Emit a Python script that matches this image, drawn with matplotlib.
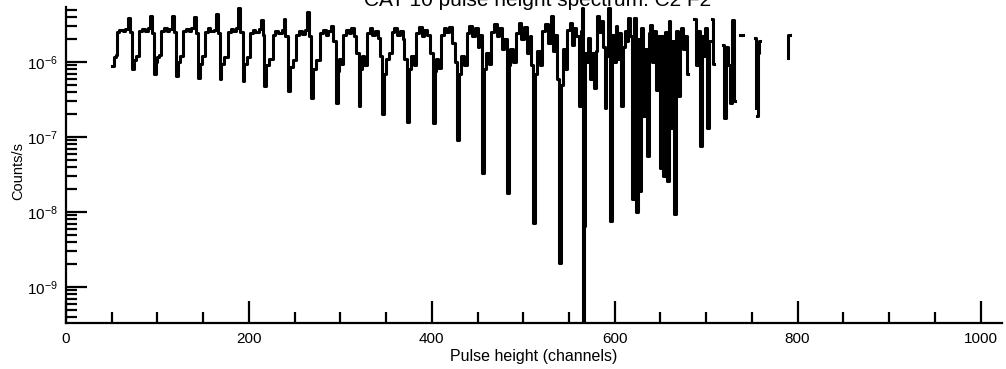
import numpy as np
import matplotlib.pyplot as plt
from matplotlib.ticker import LogLocator, NullFormatter

plt.rcParams['font.family'] = ['Liberation Sans', 'DejaVu Sans']
plt.rcParams['mathtext.fontset'] = 'custom'
plt.rcParams['mathtext.rm'] = 'Liberation Sans'
plt.rcParams['mathtext.it'] = 'Liberation Sans:italic'
plt.rcParams['mathtext.bf'] = 'Liberation Sans:bold'

# step start channel and count rate (units of 1e-6 counts/s), channels 50-278
ch_low = [50, 52, 55,
          56, 58, 62, 65, 68, 70, 72, 74, 77,
          80, 83, 86, 90, 92, 94, 96, 98, 100, 102,
          104, 107, 110, 113, 116, 118, 120, 122, 125,
          128, 131, 134, 137, 140, 142, 144, 146, 149,
          152, 155, 158, 162, 164, 166, 168, 170, 173,
          177, 180, 183, 186, 188, 190, 193, 195, 198,
          201, 204, 207, 211, 213, 215, 217, 219, 222,
          226, 229, 232, 236, 238, 240, 243, 245, 248,
          252, 255, 258, 261, 264, 266, 268, 270, 273]
rate_low = [0.88, 1.18, 1.25,
            2.5, 2.7, 2.55, 2.75, 3.9, 2.5, 0.80, 1.05, 1.2,
            2.6, 2.75, 2.6, 2.8, 4.1, 2.4, 0.69, 1.0, 1.15, 1.25,
            2.55, 2.8, 2.6, 2.75, 4.1, 2.5, 0.65, 1.0, 1.2,
            2.6, 2.75, 2.55, 2.8, 4.0, 2.4, 0.61, 0.95, 1.2,
            2.5, 2.8, 2.6, 2.7, 4.4, 2.4, 0.59, 0.95, 1.15,
            2.5, 2.75, 2.6, 2.8, 5.2, 2.5, 0.56, 0.95, 1.15,
            2.4, 2.7, 2.5, 2.75, 3.6, 2.3, 0.48, 0.9, 1.1,
            2.3, 2.6, 2.4, 2.7, 3.7, 2.2, 0.41, 0.85, 1.05,
            2.3, 2.6, 2.35, 2.7, 4.6, 2.2, 0.33, 0.8, 1.05]

# channels 278-567
ch_mid = [278, 281, 284, 287, 290, 292, 295, 297, 299, 301,
          303, 306, 309, 312, 315, 317, 320, 322, 324, 326,
          329, 332, 335, 338, 341, 343, 346, 348, 350, 353,
          356, 359, 362, 365, 368, 370, 373, 375, 377, 380,
          383, 386, 389, 392, 395, 398, 401, 403, 405, 407,
          410, 413, 416, 419, 422, 425, 428, 430, 432, 435,
          438, 441, 444, 447, 450, 452, 455, 457, 459, 462,
          465, 468, 471, 474, 477, 479, 482, 484, 486, 489,
          492, 495, 498, 501, 504, 507, 509, 511, 513, 515, 518,
          521, 524, 527, 530, 532, 535, 537, 539, 541, 543, 546,
          548, 551, 553, 555, 558, 561, 563, 564, 565, 566, 567]
rate_mid = [2.4, 2.7, 2.3, 2.6, 3.0, 1.9, 0.28, 0.75, 1.1, 0.95,
            2.3, 2.7, 2.4, 2.8, 2.2, 1.3, 0.26, 0.8, 1.2, 0.9,
            2.4, 2.8, 2.3, 2.6, 2.1, 1.2, 0.20, 0.7, 1.1, 1.3,
            2.5, 2.8, 2.3, 2.6, 2.0, 1.1, 0.16, 0.8, 1.2, 0.9,
            2.4, 2.9, 2.2, 2.7, 2.3, 1.3, 0.154, 0.75, 1.1, 0.83,
            2.3, 2.8, 2.5, 2.9, 1.8, 1.0, 0.09, 0.7, 1.2, 0.9,
            2.4, 3.0, 2.2, 2.8, 1.6, 2.3, 0.033, 0.8, 1.3, 0.95,
            2.5, 3.2, 2.2, 2.8, 1.5, 2.0, 0.018, 0.9, 1.5, 1.0,
            2.4, 3.3, 2.0, 2.9, 1.3, 2.2, 0.9, 0.0071, 0.7, 1.4, 0.9,
            2.6, 3.2, 1.8, 4.1, 1.4, 2.3, 0.6, 0.0021, 0.5, 1.5, 0.8,
            2.7, 3.3, 1.7, 2.8, 2.2, 0.26, 2.6, 5.2, 0.0001, 0.0065, 1.3]

# channels 569-792, nan = empty channels
ch_high = [569, 571, 573, 575, 577, 579, 581, 583, 585, 587,
           589, 591, 593, 595, 597, 599, 601, 603, 605, 607,
           609, 611, 613, 615, 617, 619, 621, 623, 625, 627,
           629, 631, 633, 635, 637, 639, 641, 643, 645, 647,
           649, 651, 653, 655, 657, 659, 661, 663, 665, 667,
           669, 671, 673, 675, 677, 679, 680, 687, 689, 691,
           693, 695, 697, 699, 701, 703, 705, 706, 708, 709,
           718, 720, 722, 724, 726, 728, 730, 732, 737, 740,
           753, 754, 755, 756, 757, 758, 759, 789, 790, 792]
rate_high = [1.0, 2.1, 0.6, 1.3, 0.45, 1.4, 4.1, 2.5, 3.5, 1.6,
             0.24, 1.2, 5.2, 0.0075, 2.3, 1.0, 3.0, 1.1, 2.4, 0.26,
             1.6, 2.6, 1.9, 3.9, 2.2, 0.015, 3.8, 0.010, 2.0, 0.019,
             2.8, 0.19, 1.5, 0.056, 2.4, 3.1, 1.0, 2.6, 0.42, 2.2,
             0.039, 2.2, 0.030, 2.5, 0.026, 3.5, 0.13, 1.9, 0.0094, 2.6,
             0.35, 2.0, 2.8, 1.5, 2.2, 0.69, np.nan, 3.7, 0.9, 2.6,
             0.075, 2.2, 1.2, 2.8, 0.13, 1.9, np.nan, 3.7, 0.94, np.nan,
             1.7, 0.18, 1.6, 0.9, 0.28, 3.6, 0.30, np.nan, 2.3, np.nan,
             2.1, 0.24, np.nan, 0.19, 1.3, 1.9, np.nan, 1.13, 2.3, np.nan]

assert len(ch_low) == len(rate_low)
assert len(ch_mid) == len(rate_mid)
assert len(ch_high) == len(rate_high)

channels = np.array(ch_low + ch_mid + ch_high, dtype=float)
rates = np.array(rate_low + rate_mid + rate_high, dtype=float) * 1e-6

fig = plt.figure(figsize=(10.06, 3.69), dpi=100)
ax = fig.add_axes([66 / 1006, 1 - 322.7 / 369, 936 / 1006, 315.7 / 369])

ax.plot(channels, rates, drawstyle='steps-post', color='black', lw=2.2)

ax.set_yscale('log')
ax.set_xlim(0, 1023.5)
ax.set_ylim(3.34e-10, 5.4e-6)

ax.spines['top'].set_visible(False)
ax.spines['right'].set_visible(False)
for s in ['left', 'bottom']:
    ax.spines[s].set_linewidth(1.6)

ax.set_xticks(np.arange(0, 1001, 200))
ax.set_xticks(np.arange(0, 1001, 50), minor=True)
ax.set_yticks([1e-9, 1e-8, 1e-7, 1e-6])
ax.yaxis.set_minor_locator(LogLocator(base=10, subs=np.arange(2, 10)))
ax.yaxis.set_minor_formatter(NullFormatter())
ax.tick_params(axis='both', which='both', direction='in', width=1.6, labelsize=11)
ax.tick_params(axis='x', which='major', length=16, pad=7)
ax.tick_params(axis='x', which='minor', length=8)
ax.tick_params(axis='y', which='major', length=15, pad=6)
ax.tick_params(axis='y', which='minor', length=8)

ax.set_xlabel('Pulse height (channels)', fontsize=11.5, labelpad=2)
ax.set_ylabel('Counts/s', fontsize=10.5)
ax.yaxis.set_label_coords(-0.044, 0.48)

fig.text(538 / 1006, 1 - 6.5 / 369, 'CAT 10 pulse height spectrum: C2 F2',
         ha='center', va='baseline', fontsize=15)

fig.savefig('out.png', dpi=100)
